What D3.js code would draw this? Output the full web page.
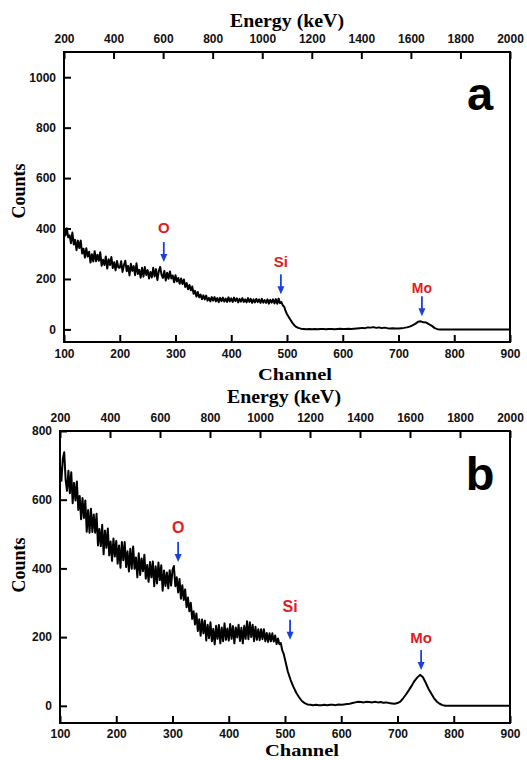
<!DOCTYPE html>
<html><head><meta charset="utf-8">
<script src="https://cdn.jsdelivr.net/npm/d3@7"></script>
<style>body{margin:0;background:#fff}svg{display:block}</style>
</head><body>
<svg id="c" width="527" height="760"></svg>
<script>
// ---------- DATA ----------
// channel numbers: 2.5-channel sampling in the noisy part, 5-channel afterwards
const channels = d3.range(100, 500, 2.5).concat(d3.range(500, 905, 5));
const countsA = [
405,372,401,365, 373,342,384,337, 355,314,352,323, 352,301,320,285, 322,289,308,265,
298,269,310,270, 296,272,306,252, 276,255,289,241, 278,255,287,243, 266,234,271,245,
244,270,228,255, 272,231,252,214, 260,232,251,215, 262,220,236,205, 244,209,247,216,
235,202,228,206, 244,210,239,196, 230,248,216,204, 232,194,225,201, 230,202,214,187,
215,190,204,181, 202,180,198,168, 184,159,176,155, 170,141,153,130, 148,127,138,120,
135,119,134,114, 125,111,128,114, 128,111,124,108, 125,112,126,110, 122,109,127,111,
123,109,126,112, 123,107,121,110, 124,109,119,107, 124,109,121,105, 119,107,121,108,
119,105,121,106, 116,105,119,102, 117,106,119,103, 120,102,122,104, 108,95,90,73,
60,42,25,12,6,3,2,1,2,1,2,1,2,2,1,2,2,1,2,3,
2,2,3,2,3,4,5,6,5,8,7,9,6,8,5,7,5,4,5,4,
4,5,6,8,11,16,22,30,32,28,27,20,14,5,1,0,0,0,0,0,
0,0,0,0,0,0,0,0,0,0,0,0,0,0,0,0,0,0,0,0,0
];
const countsB = [
700,655,719,738, 658,626,684,619, 680,590,649,598, 653,570,611,543, 605,547,598,507,
570,504,574,506, 557,504,559,467, 515,465,527,441, 510,460,516,438, 478,422,487,435,
480,414,467,402, 477,424,477,404, 450,391,457,399, 464,399,432,374, 444,381,429,392,
440,370,410,361, 419,374,420,348, 406,356,417,366, 409,335,394,349, 388,342,395,350,
395,407,348,374, 330,369,312,351, 308,339,287,315, 275,300,253,275, 237,269,218,252,
204,251,211,248, 190,236,197,243, 188,224,179,233, 195,235,182,228, 188,240,192,225,
190,238,195,232, 182,228,199,236, 189,227,182,233, 195,246,194,243, 200,236,188,230,
192,223,191,223, 194,223,188,212, 186,211,188,211, 187,205,180,196, 179,183,162,152,
135,100,75,55,38,25,14,8,4,3,2,3,2,2,3,2,3,3,2,4,
3,4,5,6,8,10,12,11,10,12,11,10,12,10,11,9,10,8,7,6,
8,12,22,33,45,58,72,82,90,84,68,50,36,22,12,6,2,0,0,0,
0,0,0,0,0,0,0,0,0,0,0,0,0,0,0,0,0,0,0,0,0
];
const energyTicks = [200,400,600,800,1000,1200,1400,1600,1800,2000];
const channelTicks = [100,200,300,400,500,600,700,800,900];
const countTicksA = [0,200,400,600,800,1000];
const countTicksB = [0,200,400,600,800];
const peaksA = [
  {label:"O",  ch:279, tip:267, text:382, size:15},
  {label:"Si", ch:489, tip:139, text:247, size:15},
  {label:"Mo", ch:742, tip:52,  text:143, size:14}
];
const peaksB = [
  {label:"O",  ch:310, tip:419, text:503, size:16},
  {label:"Si", ch:509, tip:192, text:273, size:16},
  {label:"Mo", ch:742, tip:104, text:183, size:15}
];

// ---------- DRAW ----------
const svg = d3.select("#c");
const SANS = "'Liberation Sans', Arial, sans-serif";
const SERIF = "'Liberation Serif', 'Times New Roman', serif";

function panel(cfg){
  const {L,R,T,B,yDom,counts,yTicks,peaks,letter,letterY,energyTitleY,channelTitleY,channelTitleX,countsY,energyTitleX} = cfg;
  const x = d3.scaleLinear().domain([100,900]).range([L,R]);
  const xe = d3.scaleLinear().domain([200,2000]).range([L,R]);
  const y = d3.scaleLinear().domain(yDom).range([B,T]);
  const g = svg.append("g");

  const styleAxis = sel => {
    sel.select(".domain").remove();
    sel.selectAll(".tick line").attr("stroke","#000").attr("stroke-width",2);
    sel.selectAll(".tick text").attr("font-family",SANS).attr("font-weight","bold")
      .attr("font-size",12).attr("fill","#111");
  };
  g.append("g").attr("transform",`translate(0,${B})`)
    .call(d3.axisBottom(x).tickValues(channelTicks).tickSizeInner(-7).tickSizeOuter(0).tickPadding(cfg.bPad).tickFormat(d3.format("d")))
    .call(styleAxis);
  g.append("g").attr("transform",`translate(0,${T})`)
    .call(d3.axisTop(xe).tickValues(energyTicks).tickSizeInner(-7).tickSizeOuter(0).tickPadding(9).tickFormat(d3.format("d")))
    .call(styleAxis);
  g.append("g").attr("transform",`translate(${L},0)`)
    .call(d3.axisLeft(y).tickValues(yTicks).tickSizeInner(-7).tickSizeOuter(0).tickPadding(8).tickFormat(d3.format("d")))
    .call(styleAxis);

  // spectrum
  const n = Math.min(channels.length, counts.length);
  const line = d3.line().x((d,i)=>x(channels[i])).y(d=>y(d));
  g.append("path").datum(counts.slice(0,n))
    .attr("d",line).attr("fill","none").attr("stroke","#000")
    .attr("stroke-width",2).attr("stroke-linejoin","round");

  // frame
  g.append("rect").attr("x",L).attr("y",T).attr("width",R-L).attr("height",B-T)
    .attr("fill","none").attr("stroke","#000").attr("stroke-width",2);

  // peaks
  peaks.forEach(p=>{
    const px = x(p.ch), ty = y(p.tip);
    g.append("line").attr("x1",px).attr("x2",px).attr("y1",ty-20).attr("y2",ty-6)
      .attr("stroke","#1b3fe0").attr("stroke-width",1.8);
    g.append("path").attr("d",`M${px-3.5},${ty-8}L${px+3.5},${ty-8}L${px},${ty}Z`).attr("fill","#1b3fe0");
    g.append("text").attr("x",px).attr("y",y(p.text)).attr("text-anchor","middle")
      .attr("font-family",SANS).attr("font-weight","bold").attr("font-size",p.size)
      .attr("fill","#e31b23").text(p.label);
  });

  // letter
  g.append("text").attr("x",480).attr("y",letterY).attr("text-anchor","middle")
    .attr("font-family",SANS).attr("font-weight","bold").attr("font-size",47).attr("fill","#000").text(letter);

  // titles
  g.append("text").attr("x",energyTitleX).attr("y",energyTitleY).attr("text-anchor","middle")
    .attr("font-family",SERIF).attr("font-weight","bold").attr("font-size",18)
    .attr("textLength",114).attr("lengthAdjust","spacingAndGlyphs").text("Energy (keV)");
  g.append("text").attr("x",channelTitleX).attr("y",channelTitleY).attr("text-anchor","middle")
    .attr("font-family",SERIF).attr("font-weight","bold").attr("font-size",cfg.chSize)
    .attr("textLength",74).attr("lengthAdjust","spacingAndGlyphs").text("Channel");
  g.append("text").attr("transform",`translate(25,${countsY}) rotate(-90)`).attr("text-anchor","middle")
    .attr("font-family",SERIF).attr("font-weight","bold").attr("font-size",18).text("Counts");
}

panel({L:64,R:510,T:52,B:342,yDom:[-50,1100],counts:countsA,yTicks:countTicksA,peaks:peaksA,
  letter:"a",letterY:110,energyTitleY:27,energyTitleX:287,channelTitleY:380,channelTitleX:295,countsY:191,bPad:7.5,chSize:17});
panel({L:60,R:510,T:431,B:723,yDom:[-50,800],counts:countsB,yTicks:countTicksB,peaks:peaksB,
  letter:"b",letterY:490,energyTitleY:403,energyTitleX:284,channelTitleY:755.5,channelTitleX:302,countsY:565,bPad:6.5,chSize:16});
</script>
</body></html>
